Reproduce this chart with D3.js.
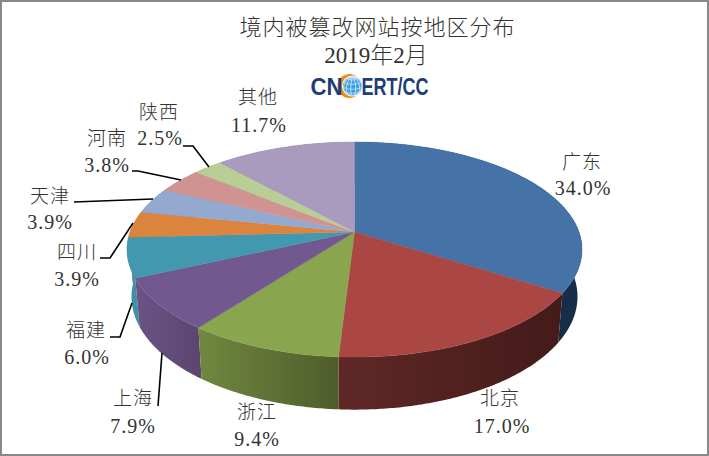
<!DOCTYPE html>
<html lang="zh">
<head>
<meta charset="utf-8">
<script src="https://cdn.jsdelivr.net/npm/d3@7"></script>
<style>
html, body { margin: 0; padding: 0; background: #fff; }
svg { display: block; }
text { font-family: "Liberation Serif", "Noto Sans CJK SC", serif; font-weight: 300; fill: #333; text-anchor: middle; dominant-baseline: central; }
</style>
</head>
<body>
<div id="chart"></div>
<script>
var categories = ["广东", "北京", "浙江", "上海", "福建", "四川", "天津", "河南", "陕西", "其他"];
var values = [34.0, 17.0, 9.4, 7.9, 6.0, 3.9, 3.9, 3.8, 2.5, 11.7];
var percentLabels = ["34.0%", "17.0%", "9.4%", "7.9%", "6.0%", "3.9%", "3.9%", "3.8%", "2.5%", "11.7%"];
var titleLines = ["境内被篡改网站按地区分布", "2019年2月"];

var topColors = ["#4573a7", "#aa4643", "#89a54e", "#71588f", "#4198af", "#db843d", "#93a9cf", "#d19392", "#b9cd96", "#a99bbd"];
var wallLeft = ["#1a3553", "#5f2826", "#71873f", "#6a5484", "#3d90a6", "#a9662f", "#6f81a0", "#a07170", "#8e9e73", "#82779a"];
var wallRight = ["#162d48", "#431b19", "#4e5d2b", "#5a4570", "#3d90a6", "#a9662f", "#6f81a0", "#a07170", "#8e9e73", "#82779a"];

// label centres and leader lines
var nameAt = [[582, 162], [500, 398], [257, 412], [133, 398], [86, 330], [77, 252], [50, 196], [107, 138], [159, 112], [258, 97]];
var pctAt = [[583, 188], [502, 426], [257, 439], [133, 426], [87, 357], [77, 279], [50, 222], [107, 165], [160, 138], [259, 125]];
var leaders = [
	[[183, 146], [193, 146], [209, 167]],
	[[132, 171], [138, 171], [181, 180]],
	[[74, 202], [153, 199]],
	[[100, 258], [110, 258], [133, 223]],
	[[110, 337], [120, 337], [132, 303]],
	[[158, 406], [162, 353]]
];

var width = 709, height = 456;

var svg = d3.select("#chart").append("svg")
	.attr("width", width)
	.attr("height", height);

svg.append("rect")
	.attr("x", 1).attr("y", 1)
	.attr("width", width - 2).attr("height", height - 2)
	.attr("fill", "#fff")
	.attr("stroke", "#888")
	.attr("stroke-width", 2);

// the pie is tilted away from the viewer, so the rim goes through a perspective divide
var persp = 0.163;
var x = d3.scaleLinear().domain([-1, 1]).range([130, 579]);
var y = d3.scaleLinear().domain([-1, 1]).range([127.3, 336.7]);

function rimTop(a) {
	var u = Math.sin(a), v = -Math.cos(a), d = 1 - persp * v;
	return [x(u / d), y(v / d)];
}
function rimBottom(a) {
	var p = rimTop(a);
	return [x(0) + 0.98 * (p[0] - x(0)), p[1] + 46.3 + 0.05 * (p[1] - y(0))];
}
function sweep(s) {
	var n = Math.max(2, Math.ceil((s.endAngle - s.startAngle) / 0.01));
	return d3.range(n + 1).map(function(i) {
		return s.startAngle + (s.endAngle - s.startAngle) * i / n;
	});
}

var slices = d3.pie().sort(null).value(function(d) { return d; })(values);
var line = d3.line();

var defs = svg.append("defs");
slices.forEach(function(s, i) {
	var g = defs.append("linearGradient").attr("id", "wall" + i);
	g.append("stop").attr("offset", "0%").attr("stop-color", wallLeft[i]);
	g.append("stop").attr("offset", "100%").attr("stop-color", wallRight[i]);
});

// walls, back to front
var order = slices.slice().sort(function(a, b) {
	return Math.cos((b.startAngle + b.endAngle) / 2) - Math.cos((a.startAngle + a.endAngle) / 2);
});

svg.selectAll("path.wall")
	.data(order)
	.enter().append("path")
	.attr("class", "wall")
	.attr("fill", function(d) { return "url(#wall" + d.index + ")"; })
	.attr("d", function(d) {
		var a = sweep(d);
		return line(a.map(rimTop).concat(a.reverse().map(rimBottom))) + "Z";
	});

svg.selectAll("path.top")
	.data(slices)
	.enter().append("path")
	.attr("class", "top")
	.attr("fill", function(d) { return topColors[d.index]; })
	.attr("stroke", function(d) { return topColors[d.index]; })
	.attr("stroke-width", 0.4)
	.attr("d", function(d) {
		return line([[x(0), y(0)]].concat(sweep(d).map(rimTop))) + "Z";
	});

svg.selectAll("path.leader")
	.data(leaders)
	.enter().append("path")
	.attr("class", "leader")
	.attr("fill", "none")
	.attr("stroke", "#000")
	.attr("stroke-width", 1.6)
	.attr("d", function(d) { return line(d); });

// title
svg.append("text").attr("x", 377.5).attr("y", 27)
	.style("font-size", "22px").style("letter-spacing", "1px")
	.text(titleLines[0]);
svg.append("text").attr("x", 376).attr("y", 55)
	.style("font-size", "23px")
	.text(titleLines[1]);

// labels
svg.selectAll("text.name")
	.data(categories)
	.enter().append("text")
	.attr("class", "name")
	.attr("x", function(d, i) { return nameAt[i][0]; })
	.attr("y", function(d, i) { return nameAt[i][1]; })
	.style("font-size", "19px")
	.style("letter-spacing", "1px")
	.text(function(d) { return d; });

svg.selectAll("text.pct")
	.data(percentLabels)
	.enter().append("text")
	.attr("class", "pct")
	.attr("x", function(d, i) { return pctAt[i][0]; })
	.attr("y", function(d, i) { return pctAt[i][1]; })
	.style("font-size", "20px")
	.style("letter-spacing", "1px")
	.text(function(d) { return d; });

// logo
var logo = svg.append("g");
logo.append("circle").attr("cx", 349.5).attr("cy", 86).attr("r", 12).attr("fill", "#ef8a1d");
logo.append("circle").attr("cx", 352.5).attr("cy", 86).attr("r", 10.5).attr("fill", "#fff");
var globe = d3.geoOrthographic().scale(9.5).translate([352.5, 86]).rotate([20, -20]);
var geo = d3.geoPath(globe);
logo.append("path").datum({type: "Sphere"}).attr("d", geo).attr("fill", "#3c9fe0");
logo.append("path").datum(d3.geoGraticule().step([30, 30])()).attr("d", geo)
	.attr("fill", "none").attr("stroke", "#d8eefb").attr("stroke-width", 0.8);
logo.append("text").attr("x", 326.5).attr("y", 87)
	.attr("textLength", 32).attr("lengthAdjust", "spacingAndGlyphs")
	.style("font-family", "'Liberation Sans'").style("font-weight", "bold").style("font-size", "23px").style("fill", "#1d3c78")
	.text("CN");
logo.append("text").attr("x", 395).attr("y", 87)
	.attr("textLength", 67).attr("lengthAdjust", "spacingAndGlyphs")
	.style("font-family", "'Liberation Sans'").style("font-weight", "bold").style("font-size", "23px").style("fill", "#1d3c78")
	.text("ERT/CC");
</script>
</body>
</html>
